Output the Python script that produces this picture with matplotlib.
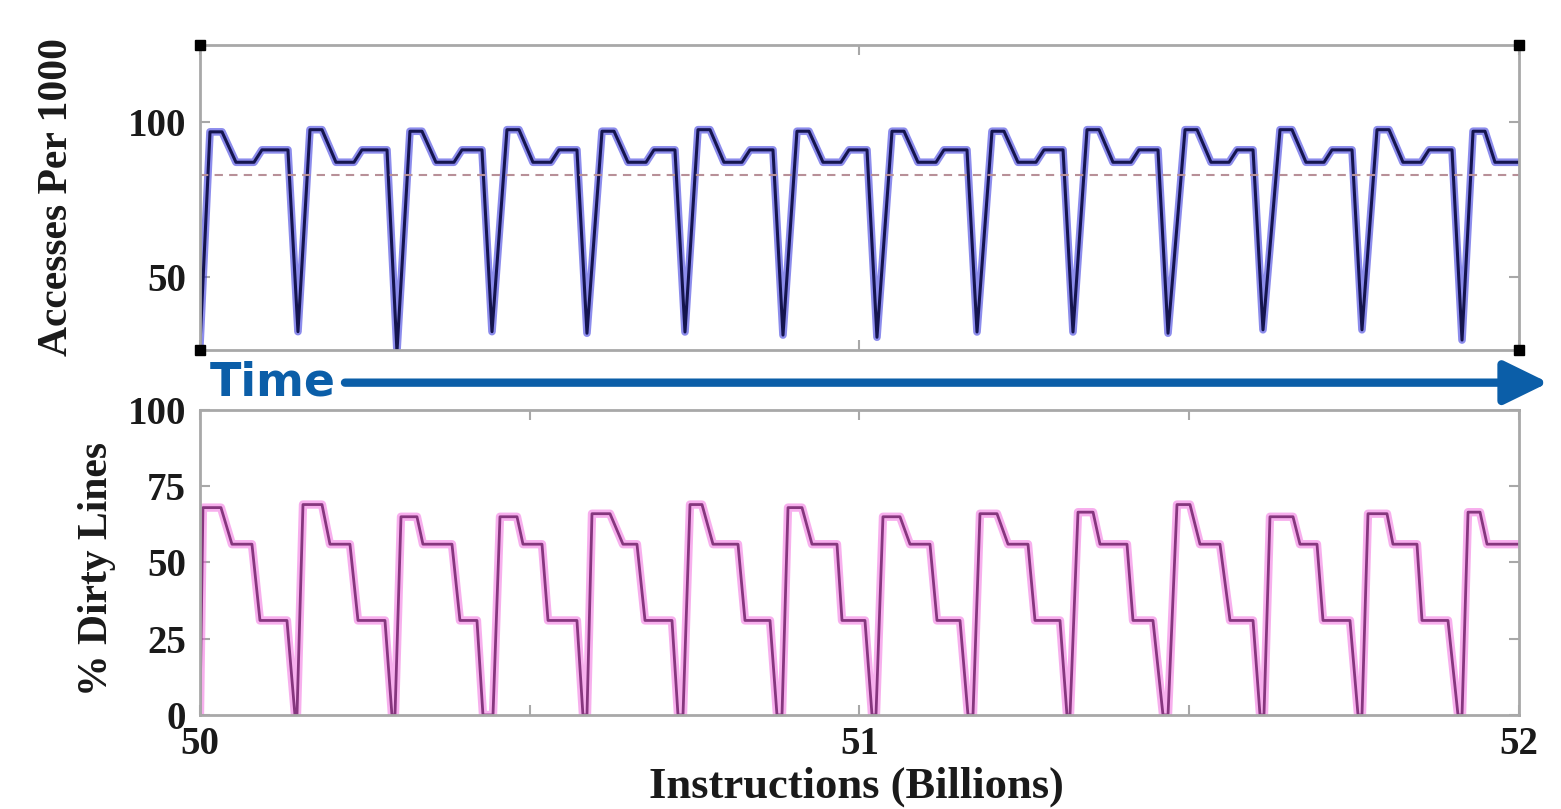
import matplotlib.pyplot as plt
from matplotlib.patches import FancyArrowPatch

# accesses per 1000 instructions (top panel), vertices
acc_x = [50.0000,
         50.0152, 50.0334, 50.0546, 50.0819, 50.0940, 50.1334, 50.1486,
         50.1668, 50.1850, 50.2062, 50.2335, 50.2456, 50.2836, 50.2987,
         50.3184, 50.3366, 50.3578, 50.3851, 50.3973, 50.4276, 50.4428,
         50.4655, 50.4837, 50.5049, 50.5322, 50.5444, 50.5716, 50.5868,
         50.6096, 50.6278, 50.6490, 50.6763, 50.6884, 50.7202, 50.7354,
         50.7551, 50.7733, 50.7945, 50.8218, 50.8340, 50.8688, 50.8840,
         50.9052, 50.9234, 50.9447, 50.9719, 50.9841, 51.0114, 51.0265,
         51.0493, 51.0675, 51.0887, 51.1160, 51.1281, 51.1630, 51.1782,
         51.2009, 51.2191, 51.2403, 51.2676, 51.2798, 51.3086, 51.3237,
         51.3450, 51.3632, 51.3844, 51.4117, 51.4238, 51.4526, 51.4678,
         51.4936, 51.5118, 51.5330, 51.5603, 51.5724, 51.5967, 51.6118,
         51.6376, 51.6558, 51.6770, 51.7043, 51.7165, 51.7468, 51.7619,
         51.7847, 51.8029, 51.8241, 51.8514, 51.8635, 51.8984, 51.9136,
         51.9303, 51.9484, 51.9636, 52.0000]
acc_y = [28,
         96.8, 96.8, 87, 87, 91, 91, 32.4,
         97.5, 97.5, 87, 87, 91, 91, 26.0,
         97.0, 97.0, 87, 87, 91, 91, 32.4,
         97.5, 97.5, 87, 87, 91, 91, 31.9,
         97.0, 97.0, 87, 87, 91, 91, 32.3,
         97.5, 97.5, 87, 87, 91, 91, 31.3,
         97.0, 97.0, 87, 87, 91, 91, 30.6,
         97.0, 97.0, 87, 87, 91, 91, 32.3,
         97.0, 97.0, 87, 87, 91, 91, 32.3,
         97.5, 97.5, 87, 87, 91, 91, 31.9,
         97.5, 97.5, 87, 87, 91, 91, 33.0,
         97.5, 97.5, 87, 87, 91, 91, 33.0,
         97.5, 97.5, 87, 87, 91, 91, 29.7,
         97.0, 97.0, 87, 87]
acc_avg = 83

# % dirty lines (bottom panel)
dirty_x = [50.0000,
           50.0045, 50.0318, 50.0485, 50.0788, 50.0910, 50.1319, 50.1440, 50.1471,
           50.1562, 50.1850, 50.1971, 50.2274, 50.2396, 50.2805, 50.2911, 50.2957,
           50.3048, 50.3290, 50.3381, 50.3821, 50.3942, 50.4200, 50.4291, 50.4443,
           50.4549, 50.4807, 50.4898, 50.5186, 50.5277, 50.5716, 50.5807, 50.5868,
           50.5944, 50.6217, 50.6414, 50.6626, 50.6748, 50.7157, 50.7248, 50.7324,
           50.7430, 50.7612, 50.7779, 50.8158, 50.8264, 50.8643, 50.8749, 50.8825,
           50.8916, 50.9128, 50.9280, 50.9659, 50.9735, 51.0083, 51.0190, 51.0250,
           51.0356, 51.0614, 51.0766, 51.1069, 51.1175, 51.1524, 51.1645, 51.1721,
           51.1827, 51.2085, 51.2252, 51.2555, 51.2661, 51.3040, 51.3146, 51.3192,
           51.3313, 51.3541, 51.3647, 51.4056, 51.4147, 51.4450, 51.4602, 51.4678,
           51.4814, 51.5011, 51.5163, 51.5466, 51.5618, 51.5967, 51.6073, 51.6133,
           51.6224, 51.6573, 51.6679, 51.6937, 51.7028, 51.7437, 51.7559, 51.7619,
           51.7710, 51.7998, 51.8089, 51.8453, 51.8529, 51.8923, 51.9075, 51.9136,
           51.9227, 51.9409, 51.9515, 52.0000]
dirty_y = [0,
           68.0, 68.0, 56, 56, 31, 31, 0, 0,
           69.0, 69.0, 56, 56, 31, 31, 0, 0,
           65.0, 65.0, 56, 56, 31, 31, 0, 0,
           65.0, 65.0, 56, 56, 31, 31, 0, 0,
           66.0, 66.0, 56, 56, 31, 31, 0, 0,
           69.0, 69.0, 56, 56, 31, 31, 0, 0,
           68.0, 68.0, 56, 56, 31, 31, 0, 0,
           65.0, 65.0, 56, 56, 31, 31, 0, 0,
           66.0, 66.0, 56, 56, 31, 31, 0, 0,
           66.5, 66.5, 56, 56, 31, 31, 0, 0,
           69.0, 69.0, 56, 56, 31, 31, 0, 0,
           65.0, 65.0, 56, 56, 31, 31, 0, 0,
           66.0, 66.0, 56, 56, 31, 31, 0, 0,
           66.5, 66.5, 56, 56]

x_ticks = [50, 51, 52]
top_yticks = [50, 100]
bot_yticks = [0, 25, 50, 75, 100]

serif = 'Liberation Serif'
grey = '#a8a8a8'

fig = plt.figure(figsize=(15.61, 8.09), dpi=100)
ax1 = fig.add_axes([0.1281, 0.5674, 0.845, 0.377])
ax2 = fig.add_axes([0.1281, 0.1162, 0.845, 0.377])

# top panel
ax1.plot(acc_x, acc_y, color='#4040e0', lw=5.5, alpha=0.6)
ax1.plot(acc_x, acc_y, color='#15154e', lw=2.2)
ax1.axhline(acc_avg, color='#b89098', lw=1.5, ls=(0, (4, 3)))
ax1.set_xlim(50, 52)
ax1.set_ylim(26.5, 124.8)
ax1.set_yticks(top_yticks)
ax1.set_xticks(x_ticks)
ax1.set_xticklabels([])
ax1.plot([0, 1, 0, 1], [0, 0, 1, 1], 's', color='k', ms=7, zorder=10,
         transform=ax1.transAxes, clip_on=False)
ax1.set_ylabel('Accesses Per 1000', fontsize=30, fontfamily=serif,
               fontweight='bold', color='#1a1a1a')
ax1.yaxis.set_label_coords(-0.094, 0.5)

# bottom panel
ax2.plot(dirty_x, dirty_y, color='#f060dc', lw=6, alpha=0.5)
ax2.plot(dirty_x, dirty_y, color='#86367e', lw=2.0)
ax2.set_xlim(50, 52)
ax2.set_ylim(0, 100)
ax2.set_yticks(bot_yticks)
ax2.set_xticks(x_ticks)
ax2.set_xticks([50.5, 51.5], minor=True)
ax2.set_ylabel('% Dirty Lines', fontsize=30, fontfamily=serif,
               fontweight='bold', color='#1a1a1a')
ax2.yaxis.set_label_coords(-0.064, 0.48)
ax2.set_xlabel('Instructions (Billions)', fontsize=32, fontfamily=serif,
               fontweight='bold', color='#1a1a1a')
ax2.xaxis.set_label_coords(0.498, -0.17)

for ax in (ax1, ax2):
    for s in ax.spines.values():
        s.set_color(grey)
        s.set_linewidth(2)
    ax.tick_params(direction='in', length=7, width=1.5, color=grey,
                   left=True, right=True, top=True, bottom=True,
                   labelsize=28, labelcolor='#1a1a1a', pad=10)
    ax.tick_params(which='minor', direction='in', length=7, width=1.5,
                   color=grey, top=True, bottom=True)
    for lab in ax.get_xticklabels() + ax.get_yticklabels():
        lab.set_fontfamily(serif)
        lab.set_fontweight('bold')
ax2.tick_params(axis='x', pad=8)

# time arrow between the panels
fig.text(0.1345, 0.526, 'Time', color='#0b5ea8', fontsize=33,
         fontweight='bold', fontfamily='DejaVu Sans', va='center', ha='left')
arrow = FancyArrowPatch((0.221, 0.527), (0.992, 0.527), transform=fig.transFigure,
                        arrowstyle='-|>,head_length=0.45,head_width=0.22',
                        mutation_scale=60, color='#0b5ea8', lw=6,
                        shrinkA=0, shrinkB=0)
fig.add_artist(arrow)

fig.savefig('out.png', dpi=100, facecolor='white')
